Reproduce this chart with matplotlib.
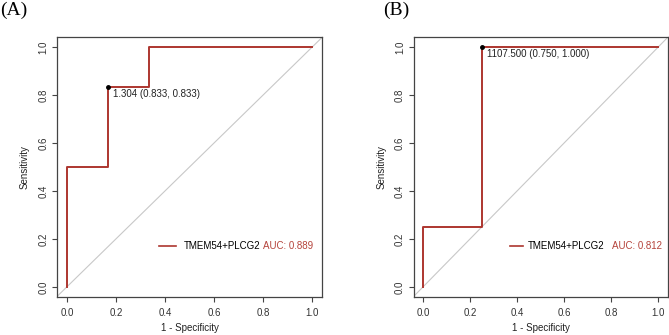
import numpy as np
import matplotlib
matplotlib.use('Agg')
import matplotlib.pyplot as plt
from matplotlib.lines import Line2D

plt.rcParams['font.family'] = ['Liberation Sans', 'DejaVu Sans']

# ROC curves (1 - specificity, sensitivity)
fpr_a = [0.0, 0.0, 0.167, 0.167, 0.333, 0.333, 1.0]
tpr_a = [0.0, 0.5, 0.5, 0.833, 0.833, 1.0, 1.0]
best_a = (0.167, 0.833)
best_label_a = '1.304 (0.833, 0.833)'
auc_a = 'AUC: 0.889'

fpr_b = [0.0, 0.0, 0.25, 0.25, 1.0]
tpr_b = [0.0, 0.25, 0.25, 1.0, 1.0]
best_b = (0.25, 1.0)
best_label_b = '1107.500 (0.750, 1.000)'
auc_b = 'AUC: 0.812'

model_name = 'TMEM54+PLCG2'
panel_titles = ['(A)', '(B)']
ticks = [0.0, 0.2, 0.4, 0.6, 0.8, 1.0]

roc_col = '#ad362f'
auc_col = '#b5443c'

fig = plt.figure(figsize=(6.69, 3.35), dpi=100)
ax_a = fig.add_axes([0.0852, 0.1134, 0.3961, 0.7762])
ax_b = fig.add_axes([0.6182, 0.1134, 0.3797, 0.7762])

panels = [
    (ax_a, fpr_a, tpr_a, best_a, best_label_a, auc_a, (0.375, 1.75, 0.8, 0.80)),
    (ax_b, fpr_b, tpr_b, best_b, best_label_b, auc_b, (0.370, 1.35, 0.5, 0.805)),
]

for (ax, fpr, tpr, best, best_label, auc, leg), title in zip(panels, panel_titles):
    leg_x, hlen, hpad, auc_x = leg
    ax.axline((0, 0), (1, 1), color='#c8c8c8', lw=0.8, zorder=1)
    ax.plot(fpr, tpr, color=roc_col, lw=1.4, zorder=3)
    ax.plot([best[0]], [best[1]], 'o', color='black', ms=2.5, zorder=4)
    ax.annotate(best_label, xy=best, xytext=(3.5, -1.5), textcoords='offset points',
                ha='left', va='top', fontsize=7, color='#222222')

    ax.set_xlim(-0.04, 1.04)
    ax.set_ylim(-0.042, 1.042)
    ax.set_xticks(ticks)
    ax.set_yticks(ticks)
    ax.set_xticklabels([f'{t:.1f}' for t in ticks], fontsize=7, color='#333333')
    ax.set_yticklabels([f'{t:.1f}' for t in ticks], fontsize=7, color='#333333',
                       rotation=90, va='center')
    ax.tick_params(length=3.8, width=0.8, color='#444444', pad=2.5)
    ax.tick_params(axis='x', pad=4)
    ax.set_xlabel('1 - Specificity', fontsize=7, color='#222222', labelpad=3.5)
    ax.set_ylabel('Sensitivity', fontsize=7, color='#222222', labelpad=6)
    for sp in ax.spines.values():
        sp.set_color('#444444')
        sp.set_linewidth(0.9)

    h = Line2D([], [], color=roc_col, lw=1.2)
    ax.legend([h], [model_name], loc='center left', bbox_to_anchor=(leg_x, 0.171),
              bbox_transform=ax.transData, frameon=False, fontsize=7,
              handlelength=hlen, handletextpad=hpad, borderpad=0, borderaxespad=0)
    ax.text(auc_x, 0.171, auc, color=auc_col, fontsize=7, ha='left', va='center')

fig.text(0.0, 0.995, panel_titles[0], fontsize=14, family='Liberation Serif',
         ha='left', va='top')
fig.text(0.572, 0.995, panel_titles[1], fontsize=14, family='Liberation Serif',
         ha='left', va='top')

fig.savefig('out.png', dpi=100)
